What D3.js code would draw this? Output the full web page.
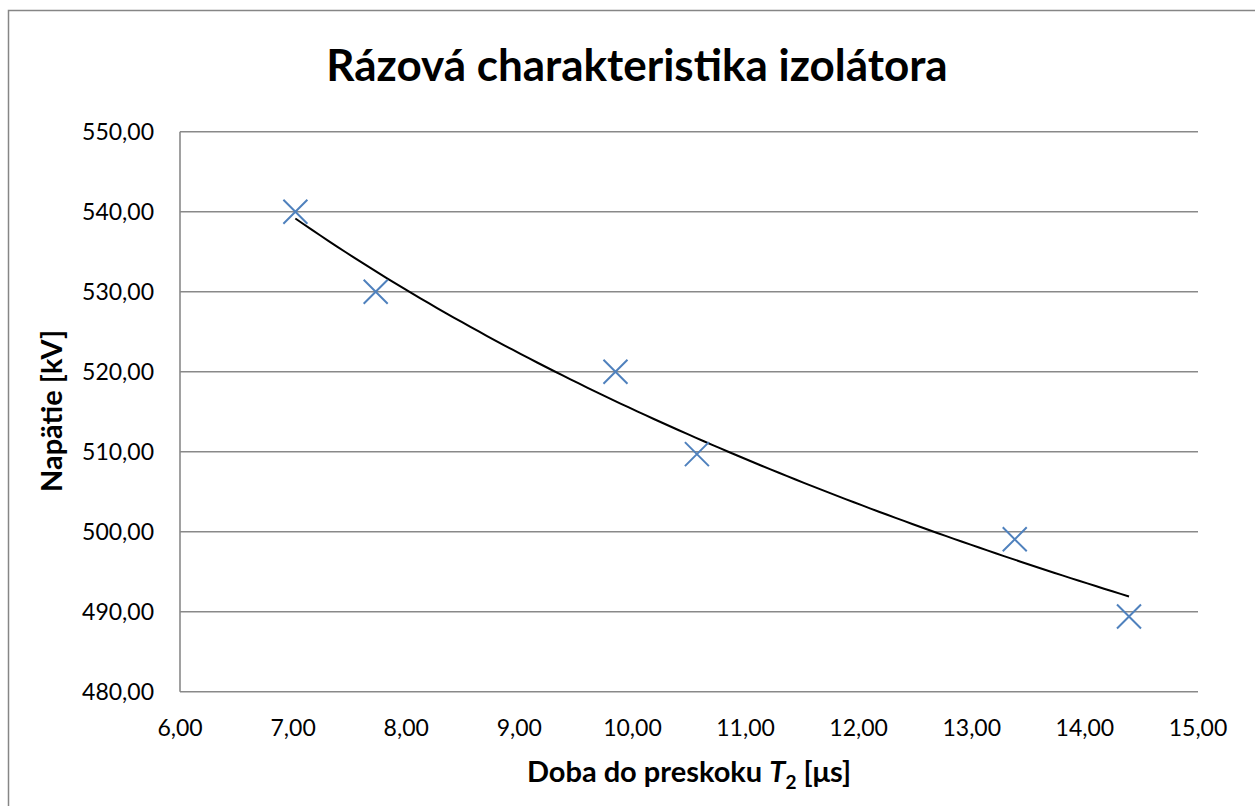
<!DOCTYPE html>
<html>
<head>
<meta charset="utf-8">
<script src="https://cdn.jsdelivr.net/npm/d3@7"></script>
<style>
    html, body { margin: 0; padding: 0; background: #fff; }
    svg text { font-family: "Lato", "Liberation Sans", sans-serif; fill: #000; }
</style>
</head>
<body>
<svg id="chart" width="1255" height="806"></svg>
<script>
// namerané body
const dobaT2 = [7.02, 7.73, 9.85, 10.57, 13.38, 14.39];
const napatie = [540.0, 530.0, 520.0, 509.7, 499.05, 489.4];

// osi
const xTicks = [6, 7, 8, 9, 10, 11, 12, 13, 14, 15];
const yTicks = [480, 490, 500, 510, 520, 530, 540, 550];

const width = 1255, height = 806;
const margin = { top: 131.7, right: 57, bottom: 114.3, left: 180 };

const svg = d3.select("#chart");

// vonkajší rámik
svg.append("rect")
    .attr("x", 8.5).attr("y", 10.5)
    .attr("width", 1300).attr("height", 900)
    .attr("fill", "#fff")
    .attr("stroke", "#868686")
    .attr("stroke-width", 1.5);

const x = d3.scaleLinear().domain([6, 15]).range([margin.left, width - margin.right]);
const y = d3.scaleLinear().domain([480, 550]).range([height - margin.bottom, margin.top]);

const loc = d3.formatLocale({ decimal: ",", thousands: " ", grouping: [3], currency: ["", ""] });
const fmt = loc.format(".2f");

// mriežka
svg.append("g")
    .selectAll("line")
    .data(yTicks)
    .join("line")
    .attr("x1", x(6)).attr("x2", x(15))
    .attr("y1", d => y(d)).attr("y2", d => y(d))
    .attr("stroke", "#898989")
    .attr("stroke-width", 1.6);

// ľavá os
svg.append("line")
    .attr("x1", x(6)).attr("x2", x(6))
    .attr("y1", y(480)).attr("y2", y(550))
    .attr("stroke", "#898989")
    .attr("stroke-width", 1.6);

// popisy osi y
svg.append("g")
    .selectAll("text")
    .data(yTicks)
    .join("text")
    .attr("x", x(6) - 26)
    .attr("y", d => y(d))
    .attr("dy", "0.35em")
    .attr("text-anchor", "end")
    .attr("font-size", 23)
    .text(d => fmt(d));

// popisy osi x
svg.append("g")
    .selectAll("text")
    .data(xTicks)
    .join("text")
    .attr("x", d => x(d))
    .attr("y", y(480) + 44)
    .attr("text-anchor", "middle")
    .attr("font-size", 23)
    .text(d => fmt(d));

// mocninová regresia (trendline)
const lx = dobaT2.map(Math.log), ly = napatie.map(Math.log);
const mx = d3.mean(lx), my = d3.mean(ly);
const b = d3.sum(lx, (v, i) => (v - mx) * (ly[i] - my)) / d3.sum(lx, v => (v - mx) ** 2);
const a = Math.exp(my - b * mx);
const trendX = d3.range(0, 101).map(i => dobaT2[0] + (dobaT2[dobaT2.length - 1] - dobaT2[0]) * i / 100);

svg.append("path")
    .datum(trendX)
    .attr("fill", "none")
    .attr("stroke", "#000")
    .attr("stroke-width", 2)
    .attr("d", d3.line().x(d => x(d)).y(d => y(a * Math.pow(d, b))));

// body
const s = 12;
svg.append("g")
    .selectAll("path")
    .data(dobaT2.map((d, i) => [d, napatie[i]]))
    .join("path")
    .attr("d", d => {
        const cx = x(d[0]), cy = y(d[1]);
        return `M${cx - s},${cy - s}L${cx + s},${cy + s}M${cx - s},${cy + s}L${cx + s},${cy - s}`;
    })
    .attr("stroke", "#4F81BD")
    .attr("stroke-width", 2)
    .attr("fill", "none");

// nadpis
svg.append("text")
    .attr("x", 637)
    .attr("y", 81)
    .attr("text-anchor", "middle")
    .attr("font-size", 44)
    .attr("font-weight", "bold")
    .text("Rázová charakteristika izolátora");

// názov osi y
svg.append("text")
    .attr("transform", "translate(62,411) rotate(-90)")
    .attr("text-anchor", "middle")
    .attr("font-size", 29)
    .attr("font-weight", "bold")
    .text("Napätie [kV]");

// názov osi x
const xl = svg.append("text")
    .attr("x", 689)
    .attr("y", 782)
    .attr("text-anchor", "middle")
    .attr("font-size", 29)
    .attr("font-weight", "bold");
xl.append("tspan").text("Doba do preskoku ");
xl.append("tspan").attr("font-style", "italic").text("T");
xl.append("tspan").attr("font-size", 19).attr("dy", 7).text("2");
xl.append("tspan").attr("dy", -7).text(" [μs]");
</script>
</body>
</html>
